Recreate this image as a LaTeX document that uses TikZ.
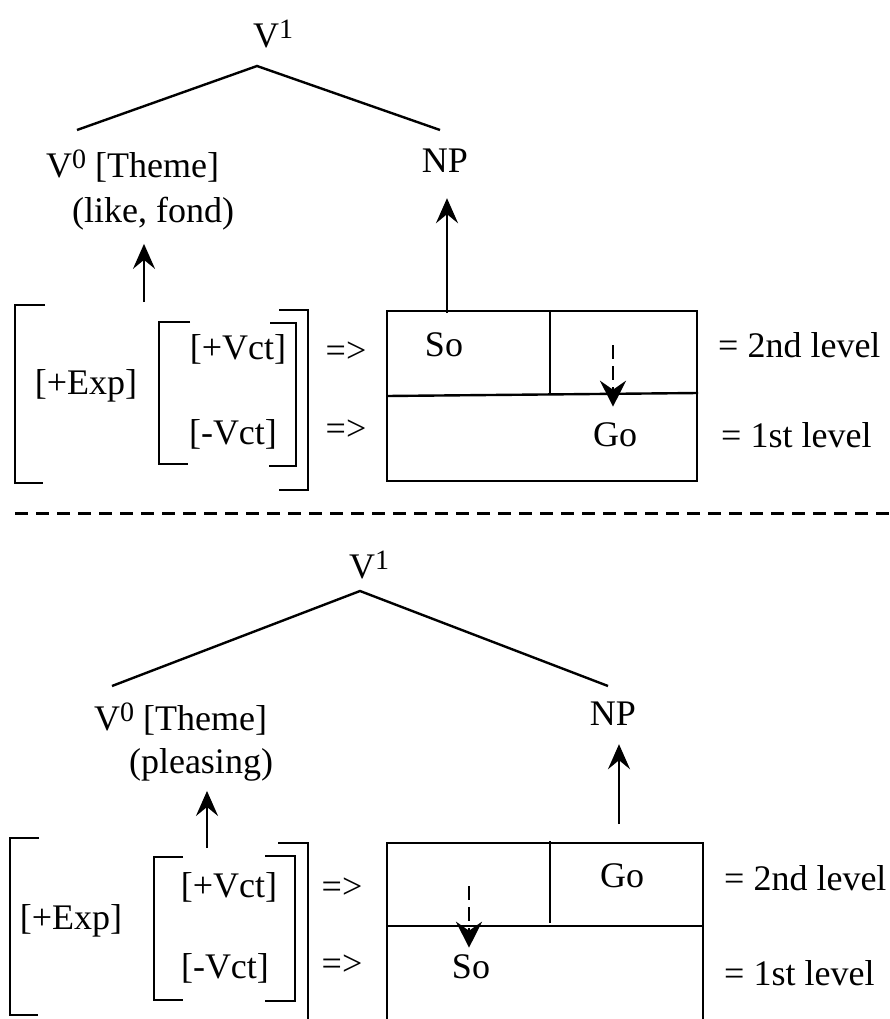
\documentclass[tikz,border=0pt]{standalone}
\usepackage{fontspec}
\setmainfont{Liberation Serif}
\usetikzlibrary{arrows.meta}
\newcommand{\supr}[1]{\raisebox{9pt}{\fontsize{28}{28}\selectfont #1}}

\begin{document}
\begin{tikzpicture}[x=1pt, y=-1pt, line width=2.4pt,
      every node/.append style={inner sep=0pt, font=\fontsize{36}{40}\selectfont},
      up/.style={-{Stealth[length=25pt,width=22pt,inset=9pt]}},
      drop/.style={-{Stealth[length=26pt,width=26pt,inset=9pt]}, dash pattern=on 14pt off 7pt}]
    \tikzstyle{word} = [anchor=base]
    \tikzstyle{lvl} = [anchor=west]
    \useasboundingbox (0,0) rectangle (890,1019);

    % upper half: like, fond
    \node (V1a) [word, anchor=base west] at (252,48) {V\supr{1}};
    \coordinate (apexA) at (257,66);
    \coordinate (legA1) at (77,130);
    \coordinate (legA2) at (440,130);
    \draw (legA1) -- (apexA) -- (legA2);
    \node (V0a) [word, anchor=base west] at (45,178) {V\supr{0} [Theme]};
    \node (likeA) [word] at (153,222) {(like, fond)};
    \node (NPa) [word] at (445,173) {NP};
    \coordinate (likeFootA) at (144,302);
    \coordinate (npFootA) at (447,313);
    \draw[up, shorten >=13pt] (likeFootA) -- (likeFootA |- likeA.south);
    \draw[up, shorten >=24pt] (npFootA) -- (npFootA |- NPa.south);
    \draw (45,305) -- (15,305) -- (15,483) -- (43,483);
    \draw (190,322) -- (159,322) -- (159,464) -- (188,464);
    \draw (270,323) -- (296,323) -- (296,466) -- (269,466);
    \draw (279,310) -- (308,310) -- (308,490) -- (279,490);
    \node (expA) at (86,386) {[+Exp]};
    \node (plusA) at (238,349) {[+Vct]};
    \node (minusA) at (233,434) {[-Vct]};
    \node (toA1) at (346,352) {=>};
    \node (toA2) at (346,430) {=>};
    \draw (387,311) rectangle (697,481);
    \draw (387,396) -- (698,393);
    \draw (550,311) -- (550,394);
    \node (SoA) at (444,345) {So};
    \node (GoA) at (615,435) {Go};
    \coordinate (dropA) at (613,345);
    \draw[drop, shorten >=15pt] (dropA) -- (dropA |- GoA.north);
    \node (secA) [lvl] at (717,345) {= 2nd level};
    \node (firA) [lvl] at (720,435) {= 1st level};

    \draw[line width=3pt, dash pattern=on 13pt off 8pt] (15,513) -- (890,513);

    % lower half: pleasing
    \node (V1b) [word, anchor=base west] at (348,578) {V\supr{1}};
    \coordinate (apexB) at (360,591);
    \coordinate (legB1) at (112,686);
    \coordinate (legB2) at (608,686);
    \draw (legB1) -- (apexB) -- (legB2);
    \node (V0b) [word, anchor=base west] at (93,730) {V\supr{0} [Theme]};
    \node (pleaseB) [word] at (201,773) {(pleasing)};
    \node (NPb) [word] at (613,725) {NP};
    \coordinate (pleaseFootB) at (207,848);
    \coordinate (npFootB) at (619,824);
    \draw[up, shorten >=9pt] (pleaseFootB) -- (pleaseFootB |- pleaseB.south);
    \draw[up, shorten >=18pt] (npFootB) -- (npFootB |- NPb.south);
    \draw (39,838) -- (10,838) -- (10,1015) -- (38,1015);
    \draw (183,857) -- (154,857) -- (154,1000) -- (183,1000);
    \draw (265,856) -- (295,856) -- (295,1001) -- (265,1001);
    \draw (278,843) -- (308,843) -- (308,1030);
    \node (expB) at (71,921) {[+Exp]};
    \node (plusB) at (229,887) {[+Vct]};
    \node (minusB) at (225,968) {[-Vct]};
    \node (toB1) at (342,888) {=>};
    \node (toB2) at (342,965) {=>};
    \draw (387,1030) -- (387,843) -- (703,843) -- (703,1030);
    \draw (387,926) -- (703,926);
    \draw (550,841) -- (550,923);
    \node (GoB) at (622,876) {Go};
    \node (SoB) at (471,967) {So};
    \coordinate (dropB) at (469,886);
    \draw[drop, shorten >=6pt] (dropB) -- (dropB |- SoB.north);
    \node (secB) [lvl] at (723,878) {= 2nd level};
    \node (firB) [lvl] at (723,973) {= 1st level};
\end{tikzpicture}
\end{document}
